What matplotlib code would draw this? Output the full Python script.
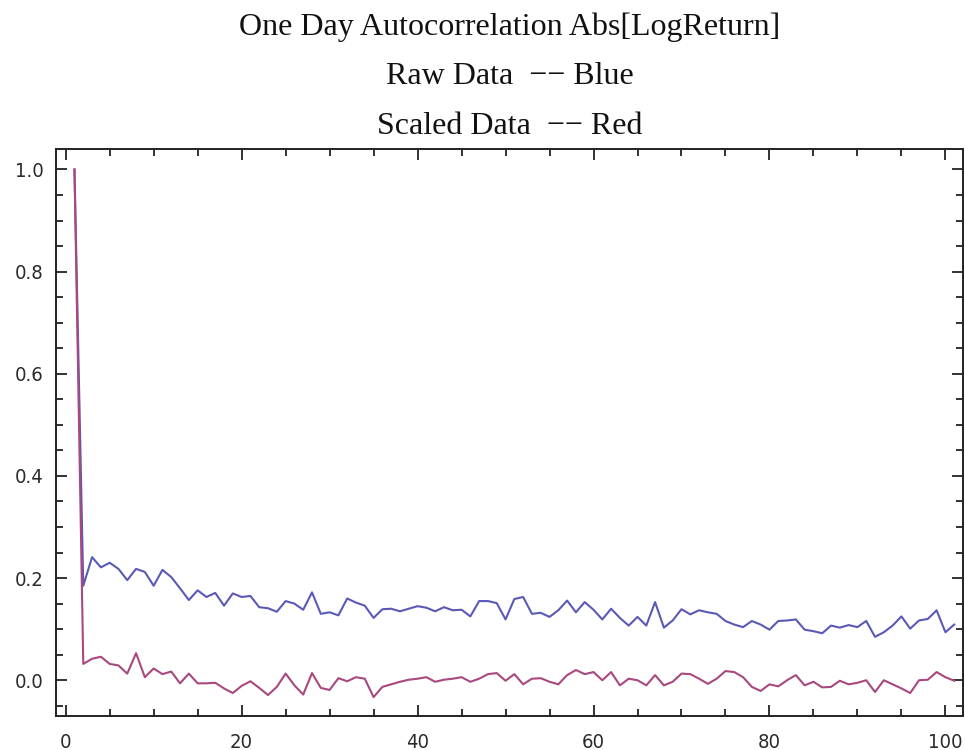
import numpy as np
import matplotlib
matplotlib.use("Agg")
import matplotlib.pyplot as plt
from matplotlib.ticker import MultipleLocator

# Autocorrelation of |log return| at lags 1..101
lags = list(range(1, 102))

raw_acf = [
    1.000, 0.185, 0.241, 0.221, 0.230, 0.218, 0.196, 0.218, 0.212, 0.185,
    0.216, 0.202, 0.180, 0.157, 0.176, 0.163, 0.171, 0.146, 0.170, 0.163,
    0.165, 0.143, 0.141, 0.134, 0.155, 0.150, 0.138, 0.172, 0.130, 0.133,
    0.127, 0.160, 0.152, 0.146, 0.122, 0.139, 0.140, 0.135, 0.140, 0.145,
    0.142, 0.135, 0.143, 0.137, 0.138, 0.125, 0.155, 0.155, 0.151, 0.119,
    0.159, 0.163, 0.130, 0.132, 0.124, 0.137, 0.156, 0.133, 0.153, 0.138,
    0.119, 0.140, 0.122, 0.107, 0.124, 0.107, 0.153, 0.103, 0.117, 0.139,
    0.129, 0.137, 0.133, 0.130, 0.116, 0.109, 0.104, 0.116, 0.109, 0.099,
    0.116, 0.117, 0.119, 0.099, 0.096, 0.092, 0.107, 0.103, 0.108, 0.104,
    0.116, 0.085, 0.094, 0.107, 0.125, 0.101, 0.117, 0.120, 0.137, 0.094,
    0.109,
]

scaled_acf = [
    1.000, 0.032, 0.042, 0.046, 0.032, 0.029, 0.013, 0.053, 0.006, 0.023,
    0.012, 0.017, -0.006, 0.013, -0.006, -0.006, -0.005, -0.016, -0.025, -0.011,
    -0.002, -0.015, -0.029, -0.013, 0.013, -0.010, -0.028, 0.014, -0.015, -0.019,
    0.004, -0.002, 0.006, 0.003, -0.033, -0.013, -0.008, -0.003, 0.001, 0.003,
    0.006, -0.003, 0.001, 0.003, 0.006, -0.003, 0.003, 0.012, 0.014, -0.001,
    0.012, -0.008, 0.003, 0.004, -0.003, -0.008, 0.010, 0.020, 0.012, 0.016,
    0.000, 0.016, -0.010, 0.003, 0.000, -0.010, 0.010, -0.010, -0.003, 0.013,
    0.012, 0.003, -0.007, 0.003, 0.018, 0.016, 0.006, -0.013, -0.021, -0.008,
    -0.012, 0.000, 0.010, -0.010, -0.003, -0.014, -0.013, -0.001, -0.008, -0.005,
    0.000, -0.023, 0.000, -0.008, -0.016, -0.025, 0.000, 0.001, 0.016, 0.006,
    -0.001,
]

title_lines = [
    "One Day Autocorrelation Abs[LogReturn]",
    "Raw Data  \u2212\u2212 Blue",
    "Scaled Data  \u2212\u2212 Red",
]

W, H = 965, 750
fig = plt.figure(figsize=(W / 100, H / 100), dpi=100)
ax = fig.add_axes([56 / W, (H - 716) / H, (963 - 56) / W, (716 - 149) / H])

ax.plot(lags, raw_acf, color="#5a5ab6", lw=1.5, solid_joinstyle="round")
ax.plot(lags, scaled_acf, color="#a8487f", lw=1.5, solid_joinstyle="round")

ax.set_xlim(-1.1, 102)
ax.set_ylim(-0.07, 1.04)
ax.xaxis.set_major_locator(MultipleLocator(20))
ax.xaxis.set_minor_locator(MultipleLocator(5))
ax.yaxis.set_major_locator(MultipleLocator(0.2))
ax.yaxis.set_minor_locator(MultipleLocator(0.05))
ax.yaxis.set_major_formatter(matplotlib.ticker.FormatStrFormatter("%.1f"))

for side in ax.spines.values():
    side.set_linewidth(1.4)
    side.set_color("#222222")

ax.tick_params(which="both", direction="in", top=True, right=True,
               color="#222222", width=1.3)
ax.tick_params(which="major", length=8)
ax.tick_params(which="minor", length=5)
ax.tick_params(axis="x", which="major", pad=12)
ax.tick_params(axis="y", which="major", pad=9)
for lbl in ax.get_xticklabels() + ax.get_yticklabels():
    lbl.set_fontsize(14.5)
    lbl.set_color("#2a2a2a")
    lbl.set_family("DejaVu Sans")
    lbl.set_stretch("condensed")

for text, ypx in zip(title_lines, [27, 76, 127]):
    fig.text(510 / W, 1 - ypx / H, text, ha="center", va="center",
             fontsize=23, family="Liberation Serif", color="#111111")

fig.savefig("out.png", dpi=100)
